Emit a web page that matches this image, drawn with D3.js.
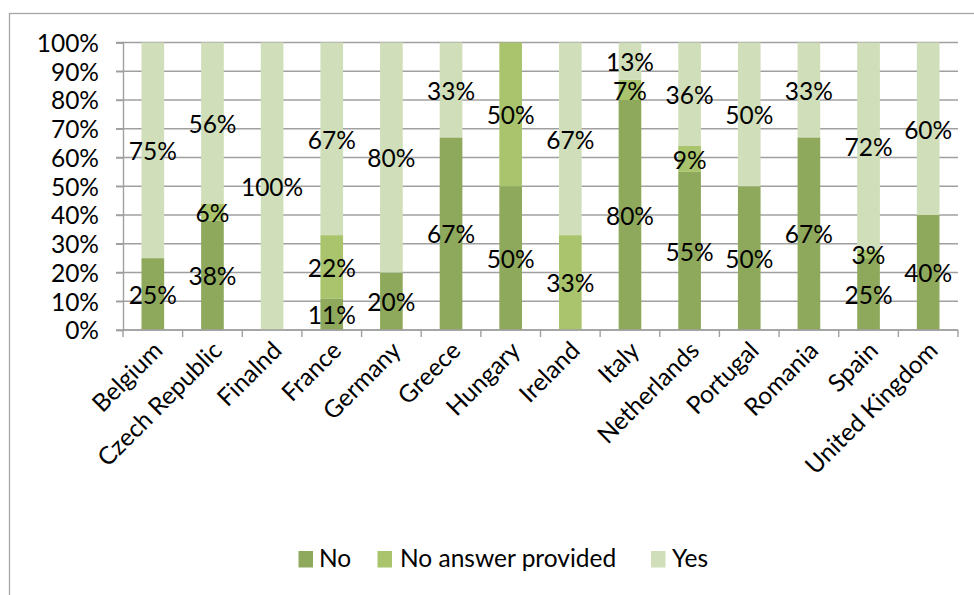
<!DOCTYPE html>
<html>
<head>
<meta charset="utf-8">
<script src="https://cdn.jsdelivr.net/npm/d3@7/dist/d3.min.js"></script>
<style>
  html, body { margin: 0; padding: 0; background: #fff; }
  svg { display: block; }
  text { font-family: Lato, "Open Sans", sans-serif; fill: #000; }
</style>
</head>
<body>
<svg id="chart" width="974" height="595"></svg>
<script>
const categories = ["Belgium", "Czech Republic", "Finalnd", "France", "Germany", "Greece", "Hungary", "Ireland", "Italy", "Netherlands", "Portugal", "Romania", "Spain", "United Kingdom"];
const seriesNames = ["No", "No answer provided", "Yes"];
const noValues       = [25, 38, 0, 11, 20, 67, 50, 0, 80, 55, 50, 67, 25, 40];
const noAnswerValues = [0, 6, 0, 22, 0, 0, 50, 33, 7, 9, 0, 0, 3, 0];
const yesValues      = [75, 56, 100, 67, 80, 33, 0, 67, 13, 36, 50, 33, 72, 60];
const yTicks = [0, 10, 20, 30, 40, 50, 60, 70, 80, 90, 100];
const colors = ["#8fa95c", "#a9c46c", "#d0dfba"];

const FS = "24.5px";
const svg = d3.select("#chart");
const margin = { left: 123, top: 42.5 };
const width = 958 - 123, height = 330 - 42.5;

// outer border (extends past right/bottom edges as in reference)
svg.append("rect").attr("x", 9.5).attr("y", 13.5).attr("width", 1200).attr("height", 1200)
  .attr("fill", "none").attr("stroke", "#a6a6a6").attr("stroke-width", 1.3);

const g = svg.append("g").attr("transform", `translate(${margin.left},${margin.top})`);

const x = d3.scaleBand().domain(categories).range([0, width]).paddingInner(0.62).paddingOuter(0.31);
const xOuter = d3.scaleBand().domain(categories).range([0, width]);
const y = d3.scaleLinear().domain([0, 100]).range([height, 0]);

// gridlines
g.append("g").selectAll("line").data(yTicks).join("line")
  .attr("x1", -7).attr("x2", width)
  .attr("y1", d => y(d)).attr("y2", d => y(d))
  .attr("stroke", "#a0a0a0").attr("stroke-width", 1.4);

// y axis
const yAxis = g.append("g").call(d3.axisLeft(y).tickValues(yTicks).tickFormat(d => d + "%").tickSize(7).tickPadding(17));
yAxis.select(".domain").attr("stroke", "#a0a0a0").attr("stroke-width", 1.4);
yAxis.selectAll(".tick line").attr("stroke", "#a0a0a0").attr("stroke-width", 1.4);
yAxis.selectAll("text").style("font-size", FS).attr("dy", "0.36em").style("font-family", "Lato, sans-serif");

// stack
const rows = categories.map((c, i) => ({ cat: c, "No": noValues[i], "No answer provided": noAnswerValues[i], "Yes": yesValues[i] }));
const stack = d3.stack().keys(seriesNames)(rows);

const layers = g.append("g").selectAll("g").data(stack).join("g").attr("fill", (d, i) => colors[i]);
layers.selectAll("rect").data(d => d).join("rect")
  .attr("x", d => x(d.data.cat))
  .attr("width", x.bandwidth())
  .attr("y", d => y(d[1]))
  .attr("height", d => y(d[0]) - y(d[1]));

// x axis
const xAxisG = g.append("g").attr("transform", `translate(0,${height})`);
xAxisG.append("line").attr("x1", 0).attr("x2", width).attr("stroke", "#a0a0a0").attr("stroke-width", 1.4);
xAxisG.selectAll("line.tk").data(d3.range(categories.length + 1)).join("line").attr("class", "tk")
  .attr("x1", i => i * xOuter.step()).attr("x2", i => i * xOuter.step())
  .attr("y1", 0).attr("y2", 7).attr("stroke", "#a0a0a0").attr("stroke-width", 1.4);
xAxisG.selectAll("text").data(categories).join("text")
  .attr("transform", d => `translate(${x(d) + x.bandwidth() / 2 + 5},${16}) rotate(-45)`)
  .attr("text-anchor", "end").attr("dy", "0.35em")
  .style("font-size", FS)
  .text(d => d);

// data labels
const labelG = g.append("g");
stack.forEach(layer => {
  layer.forEach(d => {
    const v = d[1] - d[0];
    if (v <= 0) return;
    labelG.append("text")
      .attr("x", x(d.data.cat) + x.bandwidth() / 2)
      .attr("y", y((d[0] + d[1]) / 2))
      .attr("dy", "0.4em")
      .attr("text-anchor", "middle")
      .style("font-size", FS)
      .text(v + "%");
  });
});

// legend
const legend = svg.append("g");
const legendItems = [
  { sx: 298.5, tx: 319 },
  { sx: 377.5, tx: 400 },
  { sx: 651, tx: 672 }
];
legendItems.forEach((it, i) => {
  legend.append("rect").attr("x", it.sx).attr("y", 551).attr("width", 14.5).attr("height", 16.5).attr("fill", colors[i]);
  legend.append("text").attr("x", it.tx).attr("y", 567).style("font-size", FS).text(seriesNames[i]);
});
</script>
</body>
</html>
